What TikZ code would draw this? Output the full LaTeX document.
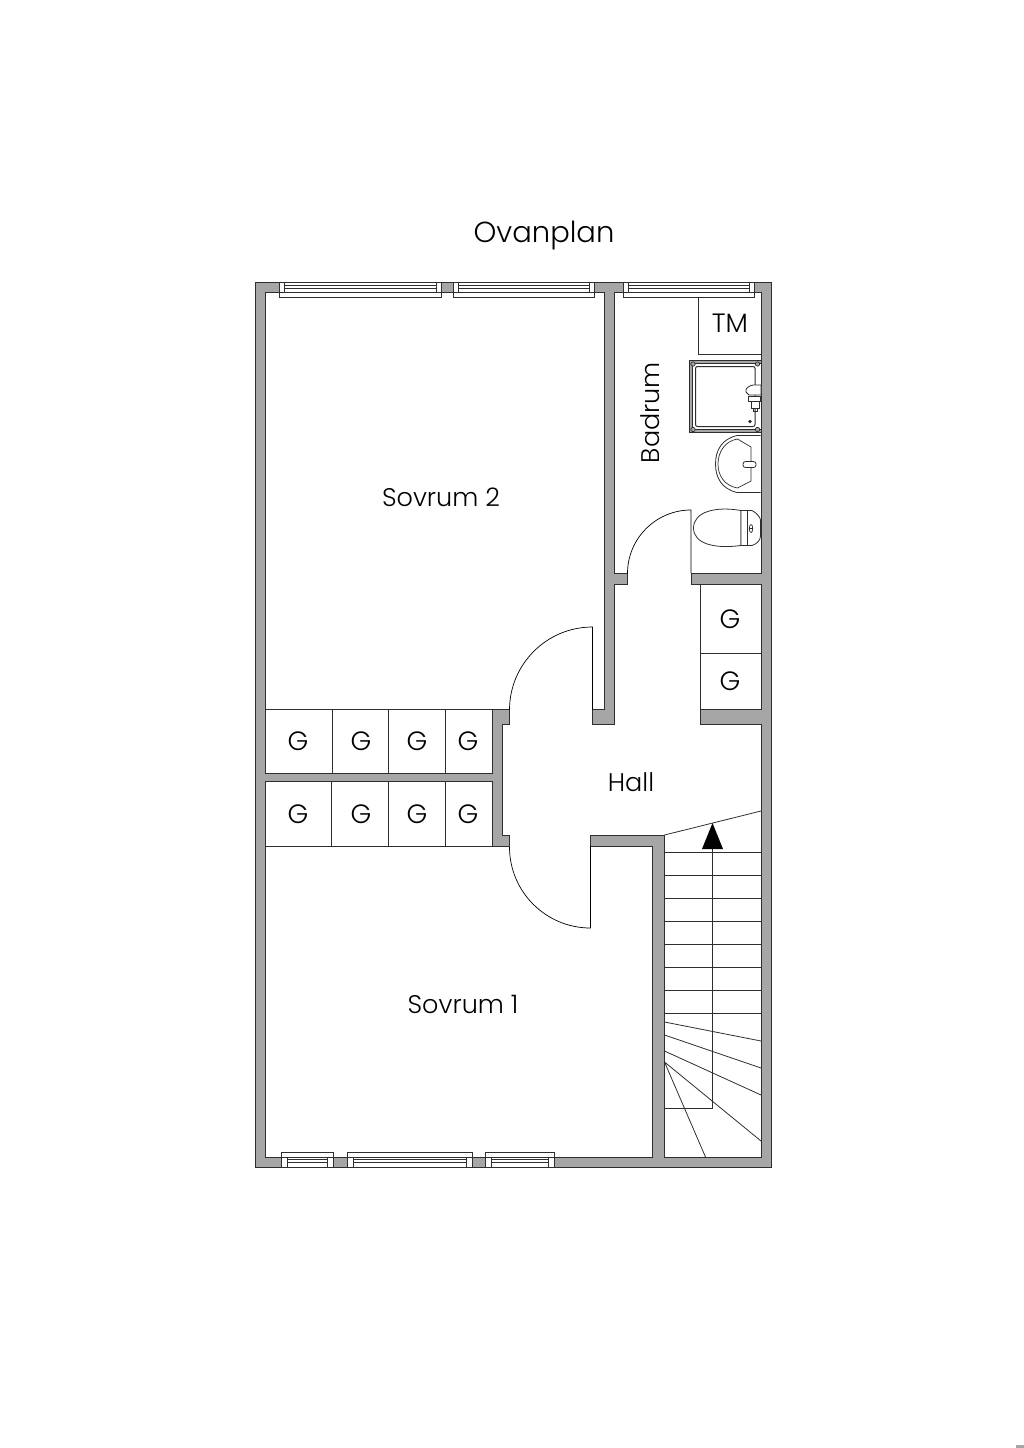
\documentclass[tikz,border=0pt]{standalone}
\usepackage{fontspec}
\setmainfont{Poppins}[UprightFont=* Light]
\usetikzlibrary{calc}
\definecolor{wallgray}{HTML}{A6A6A6}
\definecolor{linegray}{HTML}{2E2E2E}
\tikzset{
  wall/.style={draw=linegray,line width=.85pt,fill=wallgray,even odd rule,line join=miter},
  pane/.style={draw=linegray,line width=.9pt,fill=white},
  fine/.style={draw=linegray,line width=.7pt},
  door/.style={draw=black,line width=.7pt},
  tread/.style={draw=linegray,line width=.8pt},
  fixture/.style={draw=linegray,line width=.8pt,fill=white},
  room/.style={font=\fontsize{25.5}{30}\selectfont,inner sep=0pt},
  title/.style={font=\fontsize{29}{34}\selectfont,inner sep=0pt},
  store/.style={font=\fontsize{26.5}{30}\selectfont,inner sep=0pt},
}
\begin{document}
\begin{tikzpicture}[x=1pt,y=-1pt]
	\useasboundingbox (0,0) rectangle (1024,1448);
	% walls: outer rectangle with the floor as one hole
	\path[wall] (255,282) rectangle (771,1167)
		(265,292) -- (265,773.5) -- (492,773.5) -- (492,709.5) -- (509.5,709.5) -- (509.5,724.5)
		-- (502.5,724.5) -- (502.5,835) -- (509.5,835) -- (509.5,846) -- (492,846) -- (492,781.5)
		-- (265,781.5) -- (265,1157) -- (652.5,1157) -- (652.5,846) -- (590.5,846) -- (590.5,835)
		-- (664.5,835) -- (664.5,1157) -- (761,1157) -- (761,724.5) -- (700.5,724.5) -- (700.5,709.5)
		-- (761,709.5) -- (761,584) -- (691,584) -- (691,573) -- (761,573) -- (761,292)
		-- (614.5,292) -- (614.5,573) -- (627.5,573) -- (627.5,584) -- (614.5,584) -- (614.5,724.5)
		-- (592.5,724.5) -- (592.5,709.5) -- (604,709.5) -- (604,292) -- cycle;
	\fill[wallgray] (1016,1445) rectangle (1024,1448);
	% windows top
	\foreach \xa/\xb in {279.5/441,453/594,623.5/754.5}{
		\draw[pane] (\xa,282) rectangle (\xb,297);
		\draw[fine] (\xa+5,282) -- (\xa+5,292) (\xb-5,282) -- (\xb-5,292)
			(\xa,292) -- (\xb,292) (\xa+5,285) -- (\xb-5,285) (\xa+5,288) -- (\xb-5,288);
	}
	% windows bottom
	\foreach \xa/\xb in {281.5/333.5,347/472.5,485.5/554}{
		\draw[pane] (\xa,1152) rectangle (\xb,1167);
		\draw[fine] (\xa+6,1157) -- (\xa+6,1167) (\xb-6,1157) -- (\xb-6,1167)
			(\xa,1157) -- (\xb,1157) (\xa+6,1159) -- (\xb-6,1159) (\xa+6,1162.5) -- (\xb-6,1162.5);
	}
	% storage
	\draw[fine] (265,709.5) -- (492,709.5) (265,846) -- (492,846)
		(332,709.5) -- (332,773.5) (388.5,709.5) -- (388.5,773.5) (445.5,709.5) -- (445.5,773.5)
		(331.5,781.5) -- (331.5,846) (388.5,781.5) -- (388.5,846) (445,781.5) -- (445,846);
	\draw[fine] (700.5,584) -- (700.5,709.5) (700.5,653) -- (761,653);
	\draw[fine] (698.5,297) -- (698.5,354) -- (761,354);
	% doors
	\draw[door] (592.5,709.5) -- (592.5,627) arc[start angle=-90,end angle=-180,radius=83];
	\draw[door] (590.5,846) -- (590.5,928) arc[start angle=90,end angle=180,radius=81];
	\draw[door] (691,573) -- (691,510) arc[start angle=-90,end angle=-180,radius=63.5];
	% stairs
	\draw[tread] (664.5,835) -- (761,811);
	\foreach \y in {852,875,898,921,944,967,990,1013}{
		\draw[tread] (664.5,\y) -- (761,\y);
	}
	\draw[tread] (664.5,1022) -- (761,1041) (664.5,1035) -- (761,1068) (664.5,1051) -- (761,1095)
		(664.5,1062) -- (761,1141) (664.5,1062) -- (705.5,1157);
	\draw[tread] (712.5,835) -- (712.5,1108.5) -- (664.5,1108.5);
	\fill[black] (712.5,823) -- (723,849) -- (702,849) -- cycle;
	% shower
	\draw[fine,fill=wallgray,even odd rule] (689.5,360.5) rectangle (761,432.5) (692.5,363.5) rectangle (761,429.5);
	\draw[fixture,rounded corners=2pt,line width=1pt] (695.5,366.5) rectangle (755,426.5);
	\foreach \xa/\ya in {693/364,757.5/364,693/429.5,757.5/429.5}{
		\draw[fine,fill=wallgray] (\xa,\ya) circle (2.2);
	}
	\fill[linegray] (750,421.5) circle (1.8);
	\draw[fixture] (761,385) -- (753,385) .. controls (748,386) and (745,389) .. (746,392) -- (749,395) -- (761,395) -- cycle;
	\draw[fixture] (748,396.5) rectangle (760,401.5) (751,401.5) rectangle (759,408.5);
	\draw[fine] (753,408.5) -- (753,411) -- (757,411) -- (757,408.5);
	% sink
	\draw[fixture] (760.5,435.5) -- (737,435.5) .. controls (722,439) and (715.5,450) .. (715.5,464)
		.. controls (715.5,478) and (722,489) .. (737,492.5) -- (760.5,492.5);
	\draw[fine] (751,447) -- (737.5,439) .. controls (725,441) and (718,452) .. (718,464)
		.. controls (718,476) and (725,486) .. (737.5,488) -- (751,481) -- cycle;
	\draw[fixture,rounded corners=2.5pt] (743,461.5) rectangle (756,467.5);
	% toilet
	\draw[fixture] (741,510.5) .. controls (715,506) and (693.5,512) .. (693.5,528)
		.. controls (693.5,544) and (715,549) .. (741,545.5) -- cycle;
	\draw[fixture] (741,510.5) -- (752,510.5) .. controls (757,513) and (760.5,518) .. (760.5,520) -- (760.5,536)
		.. controls (760.5,540) and (757,544) .. (752,545.5) -- (741,545.5) -- cycle;
	\draw[fine] (747,510.5) -- (747,545.5);
	\draw[fine] (751,528.5) ellipse (1.7 and 4) (749.5,528.5) -- (752.5,528.5);
	% labels
	\node[title] (ovanplan) at (544,236) {Ovanplan};
	\node[room] (sovrum2) at (441,497) {Sovrum 2};
	\node[room] (sovrum1) at (463,1004) {Sovrum 1};
	\node[room] (hall) at (631,782) {Hall};
	\node[room,rotate=90] (badrum) at (650,412.5) {Badrum};
	\node[store] (tm) at (730,323) {TM};
	\foreach \xa/\ya [count=\i] in {730/619,730/681,298/741,361/741,417/741,468/741,298/814,361/814,417/814,468/814}{
		\node[store] (g\i) at (\xa,\ya) {G};
	}
\end{tikzpicture}
\end{document}
